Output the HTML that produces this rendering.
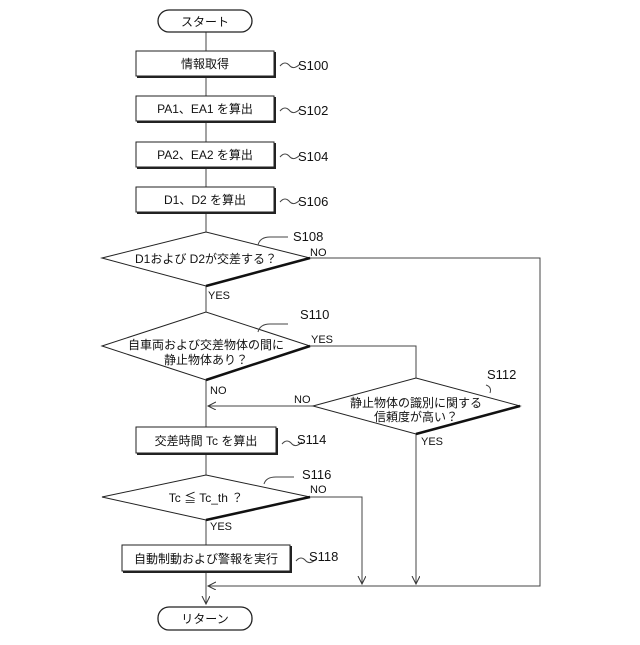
<!DOCTYPE html>
<html><head><meta charset="utf-8"><style>
body{margin:0;background:#fff}
svg text{font-family:"Liberation Sans","Noto Sans CJK JP",sans-serif;fill:#111}
</style></head><body>
<svg width="640" height="640" viewBox="0 0 640 640" xmlns="http://www.w3.org/2000/svg">
<defs><marker id="a" markerWidth="10" markerHeight="10" refX="8" refY="4" orient="auto" markerUnits="userSpaceOnUse"><path d="M0,0 L8,4 L0,8" fill="none" stroke="#333" stroke-width="1"/></marker></defs>
<g stroke="#444" stroke-width="1" fill="none">
<!-- main line -->
<line x1="206" y1="32" x2="206" y2="232"/>
<line x1="206" y1="286" x2="206" y2="312"/>
<line x1="206" y1="380" x2="206" y2="475"/>
<line x1="206" y1="520" x2="206" y2="604" marker-end="url(#a)"/>
<!-- S108 NO -->
<polyline points="310,258 540,258 540,586 208,586" marker-end="url(#a)"/>
<!-- S110 YES -->
<polyline points="310,346 416,346 416,378"/>
<line x1="313" y1="406" x2="208" y2="406" marker-end="url(#a)"/>
<line x1="416" y1="434" x2="416" y2="584" marker-end="url(#a)"/>
<polyline points="310,497 362,497 362,584" marker-end="url(#a)"/>
</g>
<!-- terminals -->
<rect x="158" y="10" width="94" height="22" rx="11" fill="#fff" stroke="#222" stroke-width="1.3"/>
<text x="205" y="26" font-size="12" text-anchor="middle">スタート</text>
<rect x="158" y="607" width="94" height="23" rx="11" fill="#fff" stroke="#222" stroke-width="1.3"/>
<text x="205" y="623" font-size="12" text-anchor="middle">リターン</text>
<!-- boxes -->
<g fill="#fff" stroke="#222" stroke-width="1">
<rect x="136" y="51" width="138" height="25"/>
<rect x="136" y="96" width="138" height="25"/>
<rect x="136" y="142" width="138" height="25"/>
<rect x="136" y="187" width="138" height="25"/>
<rect x="136" y="427" width="140" height="26"/>
<rect x="122" y="545" width="168" height="26"/>
</g>
<g stroke="#222" stroke-width="2" fill="none">
<polyline points="137,77 275,77 275,52"/>
<polyline points="137,122 275,122 275,97"/>
<polyline points="137,168 275,168 275,143"/>
<polyline points="137,213 275,213 275,188"/>
<polyline points="137,454 277,454 277,428"/>
<polyline points="123,572 291,572 291,546"/>
</g>
<g font-size="12" text-anchor="middle">
<text x="205" y="68">情報取得</text>
<text x="205" y="113">PA1、EA1 を算出</text>
<text x="205" y="159">PA2、EA2 を算出</text>
<text x="205" y="204">D1、D2 を算出</text>
<text x="206" y="445">交差時間 Tc を算出</text>
<text x="206" y="563">自動制動および警報を実行</text>
</g>
<!-- diamonds -->
<g fill="#fff" stroke="#222" stroke-width="1">
<polygon points="102,258 206,232 310,258 206,286"/>
<polygon points="102,346 206,312 310,346 206,380"/>
<polygon points="313,406 416,378 520,406 416,434"/>
<polygon points="102,497 206,475 310,497 206,520"/>
</g>
<g stroke="#111" stroke-width="2.5">
<line x1="310" y1="258" x2="206" y2="286"/>
<line x1="310" y1="346" x2="206" y2="380"/>
<line x1="520" y1="406" x2="416" y2="434"/>
<line x1="310" y1="497" x2="206" y2="520"/>
</g>
<g font-size="12" text-anchor="middle">
<text x="206" y="263">D1および D2が交差する？</text>
<text x="206" y="349">自車両および交差物体の間に</text>
<text x="206" y="364">静止物体あり？</text>
<text x="416" y="407">静止物体の識別に関する</text>
<text x="416" y="421">信頼度が高い？</text>
<text x="206" y="502">Tc ≦ Tc_th ？</text>
</g>
<!-- step labels -->
<g stroke="#444" fill="none" stroke-width="1">
<path d="M280,66 q5,-6 10,0 q4,4 10,-2"/>
<path d="M280,111 q5,-6 10,0 q4,4 10,-2"/>
<path d="M280,157 q5,-6 10,0 q4,4 10,-2"/>
<path d="M280,202 q5,-6 10,0 q4,4 10,-2"/>
<path d="M282,444 q5,-6 10,0 q4,4 10,-2"/>
<path d="M296,561 q5,-6 10,0 q4,4 10,-2"/>
<path d="M258,245 q2,-8 12,-8 l18,0"/>
<path d="M258,332 q2,-8 12,-8 l18,0"/>
<path d="M490,393 q2,-6 -4,-8"/>
<path d="M264,484 q2,-7 12,-7 l18,0"/>
</g>
<g font-size="13">
<text x="298" y="70">S100</text>
<text x="298" y="115">S102</text>
<text x="298" y="161">S104</text>
<text x="298" y="206">S106</text>
<text x="293" y="241">S108</text>
<text x="300" y="319">S110</text>
<text x="487" y="379">S112</text>
<text x="297" y="444">S114</text>
<text x="302" y="479">S116</text>
<text x="309" y="561">S118</text>
</g>
<g font-size="11">
<text x="310" y="256">NO</text>
<text x="208" y="299">YES</text>
<text x="311" y="343">YES</text>
<text x="210" y="394">NO</text>
<text x="294" y="403">NO</text>
<text x="421" y="445">YES</text>
<text x="310" y="493">NO</text>
<text x="210" y="530">YES</text>
</g>
</svg>
</body></html>
